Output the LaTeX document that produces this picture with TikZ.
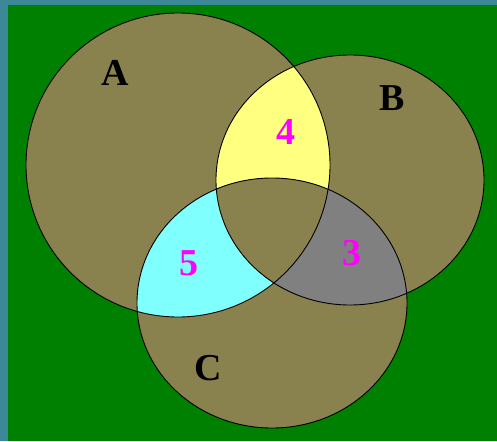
\documentclass[tikz,border=0pt]{standalone}
\usepackage{fontspec}
\setmainfont{Liberation Serif}
\definecolor{frameteal}{HTML}{3B8896}
\definecolor{ground}{HTML}{008000}
\definecolor{olive}{HTML}{8A824E}
\definecolor{lightyellow}{HTML}{FFFF80}
\definecolor{lightcyan}{HTML}{80FFFF}
\definecolor{midgray}{HTML}{808080}
\definecolor{numpink}{HTML}{FF00FF}
\def\setA{(178,165) ellipse [x radius=152pt, y radius=152pt]}
\def\setB{(350,180) ellipse [x radius=134pt, y radius=125pt]}
\def\setC{(272,303) ellipse [x radius=135pt, y radius=125pt]}
\begin{document}
\begin{tikzpicture}[x=1pt, y=-1pt, every node/.style={font=\bfseries\fontsize{38}{38}\selectfont, inner sep=0pt}, setname/.style={text=black}, count/.style={text=numpink}]
\useasboundingbox (0,0) rectangle (497,441);
\fill[frameteal] (0,0) rectangle (497,441);
\fill[ground] (8,5) rectangle (497,441);
% the three sets
\fill[olive] \setA; \fill[olive] \setB; \fill[olive] \setC;
\begin{scope} \clip \setA; \fill[lightyellow] \setB; \end{scope}
\begin{scope} \clip \setA; \fill[lightcyan] \setC; \end{scope}
\begin{scope} \clip \setB; \fill[midgray] \setC; \end{scope}
\begin{scope} \clip \setA; \clip \setB; \fill[olive] \setC; \end{scope}
\draw[line width=0.9pt] \setA; \draw[line width=0.9pt] \setB; \draw[line width=0.9pt] \setC;
% labels
\node[setname] (nameA) at (115,73) {A};
\node[setname] (nameB) at (392,98) {B};
\node[setname] (nameC) at (208,368) {C};
\node[count] (cntAB) at (286,132) {4};
\node[count] (cntAC) at (189,263) {5};
\node[count] (cntBC) at (352,253) {3};
\end{tikzpicture}
\end{document}
